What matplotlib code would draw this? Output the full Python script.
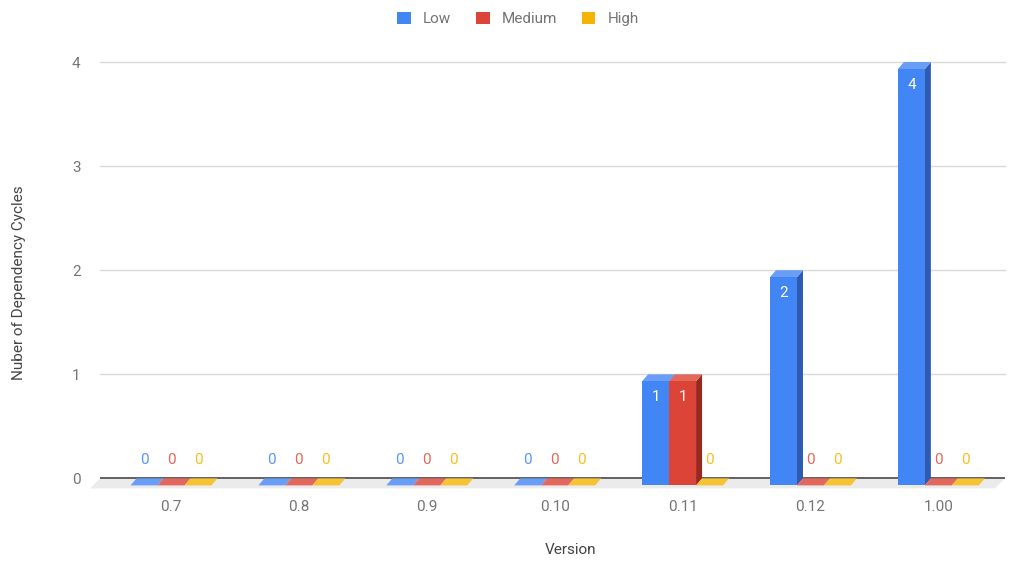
import matplotlib.pyplot as plt
from matplotlib.patches import Polygon, Patch

plt.rcParams["font.family"] = ["Roboto", "DejaVu Sans"]

versions = ["0.7", "0.8", "0.9", "0.10", "0.11", "0.12", "1.00"]
low = [0, 0, 0, 0, 1, 2, 4]
medium = [0, 0, 0, 0, 1, 0, 0]
high = [0, 0, 0, 0, 0, 0, 0]
series_names = ["Low", "Medium", "High"]

front_colors = ["#4285F4", "#DB4437", "#F4B400"]
top_colors = ["#6A9EF6", "#E2675C", "#F6C432"]
side_colors = ["#2C5BB0", "#98291F", "#B98800"]
label_colors = ["#5B95F5", "#E0685D", "#F6BF26"]

# px per unit: 127.9 along x (one category), 104 along y (one cycle)
BAR_W = 0.211
DX = 6 / 127.9   # depth offset of the back plane
DY = 7 / 104
FLOOR_DX = 10 / 127.9
FLOOR_DY = 10 / 104

fig = plt.figure(figsize=(10.17, 5.61), dpi=100)
ax = fig.add_axes([100 / 1017, 67 / 561, 905 / 1017, 432 / 561])
xmin, xmax = -0.555, 6.521
ax.set_xlim(xmin, xmax)
ax.set_ylim(-0.15, 4.0)

for v in range(1, 5):
    ax.axhline(v, color="#d9d9d9", lw=1, zorder=0, clip_on=False)

# floor under the bars
ax.add_patch(Polygon([(xmin, 0), (xmax, 0), (xmax - FLOOR_DX, -FLOOR_DY),
                      (xmin - FLOOR_DX, -FLOOR_DY)], closed=True,
                     facecolor="#ebebeb", edgecolor="none", zorder=1, clip_on=False))
ax.axhline(0, color="#555555", lw=1.3, zorder=2)

z = 3
for i in range(len(versions)):
    for j, values in enumerate([low, medium, high]):
        v = values[i]
        x0 = i + (j - 1) * BAR_W - BAR_W / 2
        x1 = x0 + BAR_W
        yb = -DY
        yt = v - DY
        if v > 0:
            side = [(x1, yb), (x1 + DX, 0), (x1 + DX, v), (x1, yt)]
            top = [(x0, yt), (x1, yt), (x1 + DX, v), (x0 + DX, v)]
            front = [(x0, yb), (x1, yb), (x1, yt), (x0, yt)]
            ax.add_patch(Polygon(side, facecolor=side_colors[j], edgecolor="none", zorder=z, clip_on=False))
            ax.add_patch(Polygon(top, facecolor=top_colors[j], edgecolor="none", zorder=z, clip_on=False))
            ax.add_patch(Polygon(front, facecolor=front_colors[j], edgecolor="none", zorder=z, clip_on=False))
            ax.text((x0 + x1) / 2, yt - 16 / 104, str(v), color="white", fontsize=11,
                    ha="center", va="center", zorder=z + 1)
        else:
            flat = [(x0, yb), (x1, yb), (x1 + DX, 0), (x0 + DX, 0)]
            ax.add_patch(Polygon(flat, facecolor=top_colors[j], edgecolor="none", zorder=z, clip_on=False))
            ax.text((x0 + x1) / 2, 18 / 104, str(v), color=label_colors[j], fontsize=11,
                    ha="center", va="center", zorder=z + 1)
        z += 1

ax.set_xticks(range(len(versions)))
ax.set_xticklabels(versions)
ax.set_yticks(range(0, 5))
ax.tick_params(axis="x", length=0, pad=4, labelsize=11, labelcolor="#757575")
ax.tick_params(axis="y", length=0, pad=14, labelsize=11, labelcolor="#757575")
for s in ax.spines.values():
    s.set_visible(False)

fig.text(571 / 1017, 1 - 550 / 561, "Version", ha="center", va="center",
         fontsize=11, color="#444444")
fig.text(19 / 1017, 1 - 283 / 561, "Nuber of Dependency Cycles", rotation=90,
         ha="center", va="center", fontsize=11, color="#444444")

handles = [Patch(facecolor=c, edgecolor="none") for c in front_colors]
fig.legend(handles, series_names, loc="center", bbox_to_anchor=(518 / 1017, 1 - 19 / 561),
           ncol=3, frameon=False, fontsize=11, labelcolor="#757575",
           handlelength=0.9, handleheight=0.9, handletextpad=0.8, columnspacing=1.6)

fig.savefig("out.png", dpi=100)
